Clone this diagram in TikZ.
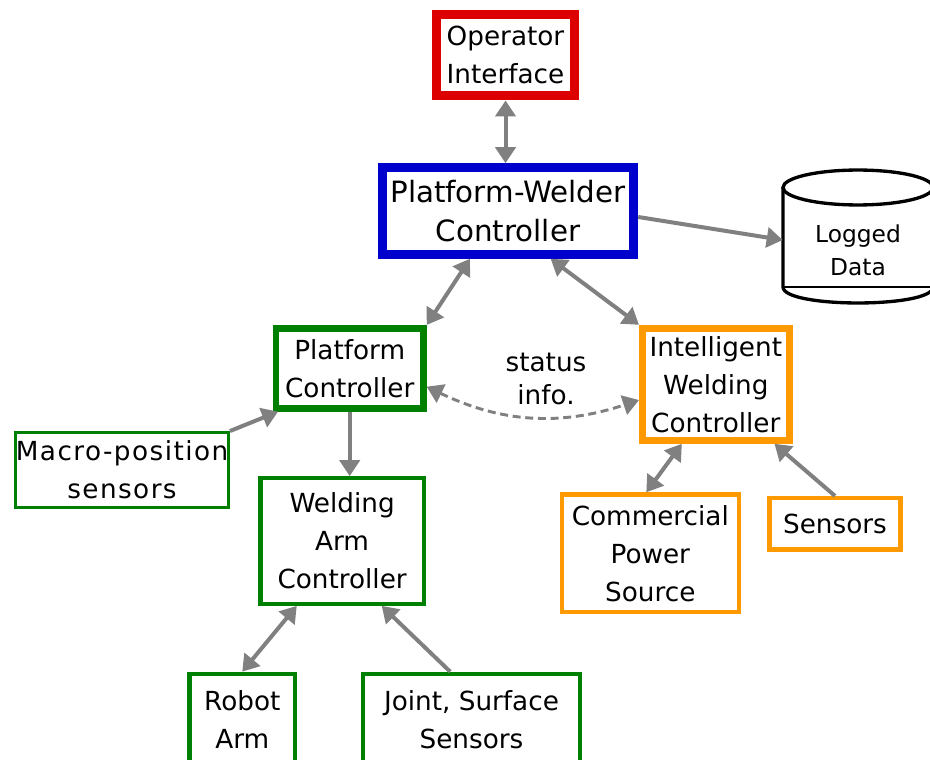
\documentclass[tikz,border=0pt]{standalone}
\usepackage{fontspec}
\setmainfont{DejaVu Sans}
\usepackage{xcolor}
\usetikzlibrary{arrows.meta}

\definecolor{opred}{RGB}{221,0,0}
\definecolor{ctlblue}{RGB}{0,0,204}
\definecolor{pfgreen}{RGB}{0,128,0}
\definecolor{weldorange}{RGB}{255,153,0}
\definecolor{linkgray}{RGB}{128,128,128}

\tikzset{
  box/.style={draw, fill=white, rectangle, inner sep=0pt, align=center,
    font=\fontsize{19.7}{28.5}\selectfont},
  link/.style={draw=linkgray, line width=3pt, -{Triangle[length=12pt, width=15pt]}},
  dlink/.style={draw=linkgray, line width=3pt,
    {Triangle[length=12pt, width=15pt]}-{Triangle[length=12pt, width=15pt]}}
}

\begin{document}
\begin{tikzpicture}[x=0.75pt, y=-0.75pt]
  \useasboundingbox (0,0) rectangle (930,759);

  % Operator and main controller
  \node[box, draw=opred, line width=7.1pt, minimum width=103.5pt, minimum height=61.1pt]
    (op) at (505.5,55) {Operator\\Interface};
  \node[box, draw=ctlblue, line width=6.75pt, minimum width=188.6pt, minimum height=64.9pt,
    font=\fontsize{22}{28.75}\selectfont]
    (pwc) at (508,211) {Platform-Welder\\Controller};

  % Logged data store
  \draw[line width=2.5pt] (858,187.5) ellipse [x radius=56.25pt, y radius=13.1pt];
  \draw[line width=2.5pt] (783,187.5) -- (783,287)
    .. controls (783,308.3) and (933,308.3) .. (933,287) -- (933,187.5);
  \draw[line width=1.2pt] (783,287) -- (933,287);
  \node[inner sep=0pt, align=center, minimum width=112.5pt,
    font=\fontsize{17.5}{25}\selectfont] (ld) at (858,250) {Logged\\Data};

  % Platform side
  \node[box, draw=pfgreen, line width=5pt, minimum width=110.5pt, minimum height=60pt]
    (pc) at (349.7,368.3) {Platform\\Controller};
  \node[box, draw=pfgreen, line width=2.5pt, minimum width=159.5pt, minimum height=56.25pt,
    font=\fontsize{19.7}{28.5}\selectfont\addfontfeature{LetterSpace=5.5}]
    (mac) at (122,470.2) {Macro-position\\sensors};
  \node[box, draw=pfgreen, line width=3.2pt, minimum width=122.4pt, minimum height=94.1pt]
    (wa) at (342.1,541) {Welding\\Arm\\Controller};
  \node[box, draw=pfgreen, line width=3.2pt, minimum width=79.1pt, minimum height=68.4pt]
    (rob) at (242.25,719.4) {Robot\\Arm};
  \node[box, draw=pfgreen, line width=3.2pt, minimum width=163.1pt, minimum height=68.4pt]
    (jss) at (471.5,719.4) {Joint, Surface\\Sensors};

  % Welder side
  \node[box, draw=weldorange, line width=5.25pt, minimum width=110pt, minimum height=84pt]
    (iwc) at (715.8,384.3) {Intelligent\\Welding\\Controller};
  \node[box, draw=weldorange, line width=3.2pt, minimum width=132.5pt, minimum height=88.3pt]
    (cps) at (650.3,553.3) {Commercial\\Power\\Source};
  \node[box, draw=weldorange, line width=3.2pt, minimum width=98.3pt, minimum height=38.6pt]
    (sen) at (835,523.8) {Sensors};

  \node[inner sep=0pt, align=center, font=\fontsize{19.7}{25}\selectfont]
    (st) at (546,379) {status\\info.};

  % Connectors
  \draw[dlink] (op.south) -- (op.south |- pwc.north);
  \draw[link] ([yshift=-4.5pt]pwc.east) -- ([yshift=7.5pt]ld.west);
  \draw[dlink] ([xshift=-28.5pt]pwc.south) -- (pc.north east);
  \draw[dlink] ([xshift=32pt]pwc.south) -- (iwc.north west);
  \draw[link] (pc.south) -- (pc.south |- wa.north);
  \draw[link] (mac.north east) -- ([xshift=4pt]pc.south west);
  \draw[dlink] ([xshift=-25.5pt]iwc.south) -- ([xshift=-3pt]cps.north);
  \draw[link] (sen.north) -- ([xshift=44pt]iwc.south);
  \draw[dlink] ([xshift=-34pt]wa.south) -- (rob.north);
  \draw[link] ([xshift=-16pt]jss.north) -- ([xshift=29.7pt]wa.south);
  \draw[dlink, line width=2.2pt, dash pattern=on 6pt off 3.5pt]
    ([yshift=-13.8pt]pc.east) to[bend right=22] ([yshift=-11.8pt]iwc.west);
\end{tikzpicture}
\end{document}
